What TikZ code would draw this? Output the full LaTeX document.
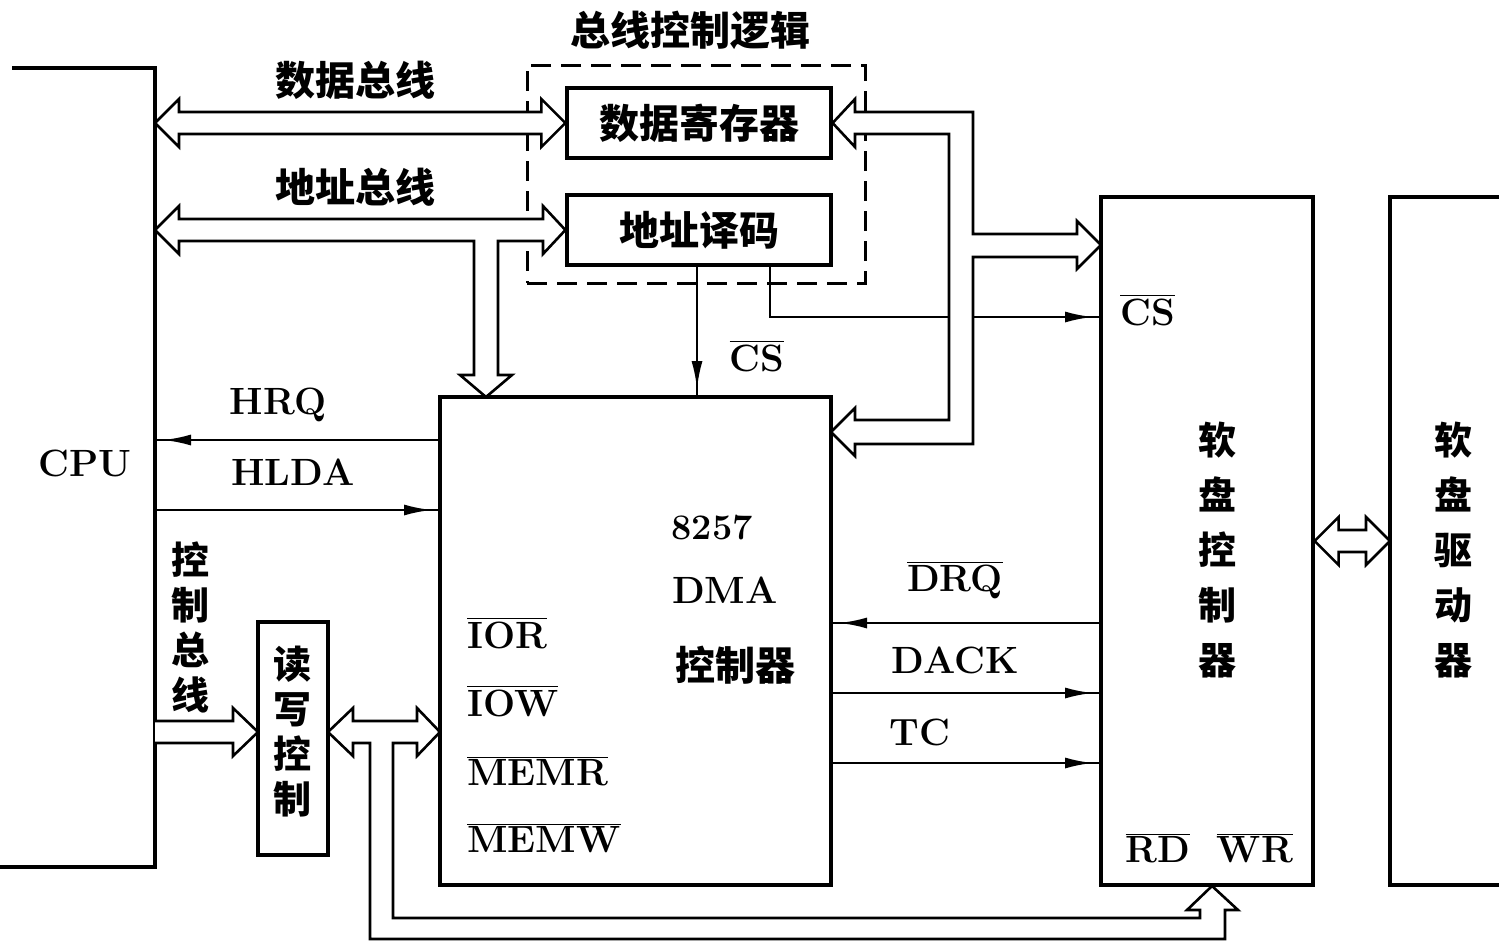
\documentclass[tikz,border=0pt]{standalone}
\usepackage{fontspec}
\newfontfamily\cjk{Noto Sans CJK SC}
\usetikzlibrary{arrows.meta,decorations.markings,calc}
\newcommand\dbar[2]{\draw[bus] (#1) -- ++(24,-24) -- ++(0,13) -- ($(#2)+(-24,-11)$) -- ++(0,-13) -- (#2) -- ++(-24,24) -- ++(0,-13) -- ($(#1)+(24,11)$) -- ++(0,13) -- cycle;}
\begin{document}
\begin{tikzpicture}[x=0.5pt,y=-0.5pt,
  box/.style={draw,line width=1.6pt,inner sep=0pt},
  sig/.style={line width=1.3pt},
  bus/.style={draw,line width=1.3pt,fill=white,line join=miter},
  tipend/.style={postaction={decorate},decoration={markings,mark=at position -4pt with {\arrow{Latex[length=14pt,width=5.5pt]}}}},
  lab/.style={font=\fontsize{19}{22}\selectfont\bfseries,inner sep=0pt},
  cj/.style={font=\cjk\fontsize{20}{24}\selectfont\bfseries,inner sep=0pt},
  cjv/.style={font=\cjk\fontsize{19}{22.5}\selectfont\bfseries,inner sep=0pt,align=center},
  cjw/.style={font=\cjk\fontsize{19}{27.5}\selectfont\bfseries,inner sep=0pt,align=center}]
\useasboundingbox (0,0) rectangle (1499,942);

% CPU (open box)
\draw[line width=1.6pt] (12,68) -- (155,68) -- (155,867) -- (0,867);
\node[lab] (cpu) at (85,463) {CPU};
\coordinate (cpuE) at (155,463);

% floppy drive (open box)
\draw[line width=1.6pt] (1510,197) -- (1390,197) -- (1390,885) -- (1510,885);
\coordinate (fddW) at (1390,541);
\node[cjw] (fddt) at (1453,550) {软\\盘\\驱\\动\\器};

% bus control logic
\node[draw,line width=1.5pt,dash pattern=on 10pt off 5pt,minimum width=169pt,minimum height=109pt,inner sep=0pt] (bcl) at (696,174) {};
\node[cj] (bclt) at (690,30) {总线控制逻辑};
\node[box,cj,minimum width=132pt,minimum height=35pt] (dr) at (699,123) {数据寄存器};
\node[box,cj,minimum width=132pt,minimum height=35pt] (ad) at (699,230) {地址译码};

% DMA
\node[box,minimum width=195.5pt,minimum height=244pt] (dma) at (635.5,641) {};
\node[lab,font=\fontsize{18}{22}\selectfont\bfseries] (n8257) at (712,528) {8257};
\node[lab] (ndma) at (725,590) {DMA};
\node[cj] (nctl) at (735,665) {控制器};
\node[lab,anchor=west] (ior) at (467,633) {$\overline{\mbox{IOR}}$};
\node[lab,anchor=west] (iow) at (467,701) {$\overline{\mbox{IOW}}$};
\node[lab,anchor=west] (memr) at (467,771) {$\overline{\mbox{MEMR}}$};
\node[lab,anchor=west] (memw) at (467,838) {$\overline{\mbox{MEMW}}$};

% floppy controller
\node[box,minimum width=106pt,minimum height=344pt] (fdc) at (1207,541) {};
\node[cjw] (fdct) at (1217,550) {软\\盘\\控\\制\\器};
\node[lab,anchor=west] (cs2) at (1120,310) {$\overline{\mbox{CS}}$};
\node[lab] (rd) at (1158,848) {$\overline{\mbox{RD}}$};
\node[lab] (wr) at (1255,848) {$\overline{\mbox{WR}}$};

% read/write control
\node[box,minimum width=35pt,minimum height=116.5pt] (rw) at (293,738.5) {};
\node[cjv] (rwt) at (292,732) {读\\写\\控\\制};
\node[cjv] (cbt) at (190,627) {控\\制\\总\\线};

% bus labels
\node[cj] (dbl) at (355,80) {数据总线};
\node[cj] (abl) at (355,187) {地址总线};

% signals
\draw[sig,tipend] (697,265) -- (697,397);
\node[lab] (cs1) at (757,356) {$\overline{\mbox{CS}}$};
\draw[sig,tipend] (770,265) -- (770,317) -- (1101,317);
\draw[sig,tipend] (440,440) -- (155,440);
\node[lab] (hrq) at (278,405) {HRQ};
\draw[sig,tipend] (155,510) -- (440,510);
\node[lab] (hlda) at (293,472) {HLDA};
\draw[sig,tipend] (1101,623) -- (831,623);
\node[lab] (drq) at (955,580) {$\overline{\mbox{DRQ}}$};
\draw[sig,tipend] (831,693) -- (1101,693);
\node[lab] (dack) at (955,660) {DACK};
\draw[sig,tipend] (831,763) -- (1101,763);
\node[lab] (tc) at (920,732) {TC};

% buses
\dbar{cpuE |- dr.west}{dr.west}
\draw[bus] (155,230) -- (179,206) -- (179,219) -- (543,219) -- (543,206) -- (ad.west) -- (543,254) -- (543,241)
  -- (498,241) -- (498,375) -- (512,375) -- (486,397) -- (460,375) -- (474,375) -- (474,241)
  -- (179,241) -- (179,254) -- cycle;
\draw[bus] (dr.east) -- (855,99) -- (855,112) -- (973,112) -- (973,234) -- (1077,234) -- (1077,221) -- (1101,245)
  -- (1077,269) -- (1077,257) -- (973,257) -- (973,444) -- (855,444) -- (855,456) -- (831,432)
  -- (855,408) -- (855,420) -- (949,420) -- (949,134) -- (855,134) -- (855,147) -- cycle;
\draw[bus] (155,721) -- (233,721) -- (233,708) -- (258,732) -- (233,756) -- (233,743) -- (155,743);
\draw[bus] (328,732) -- (353,708) -- (353,721) -- (417,721) -- (417,708) -- (440,732) -- (417,756) -- (417,743)
  -- (393,743) -- (393,918) -- (1200,918) -- (1200,910) -- (1187,910) -- (1212,886) -- (1238,910) -- (1225,910)
  -- (1225,939) -- (370,939) -- (370,743) -- (353,743) -- (353,756) -- cycle;
\dbar{fdc.east}{fddW}
\end{tikzpicture}
\end{document}
